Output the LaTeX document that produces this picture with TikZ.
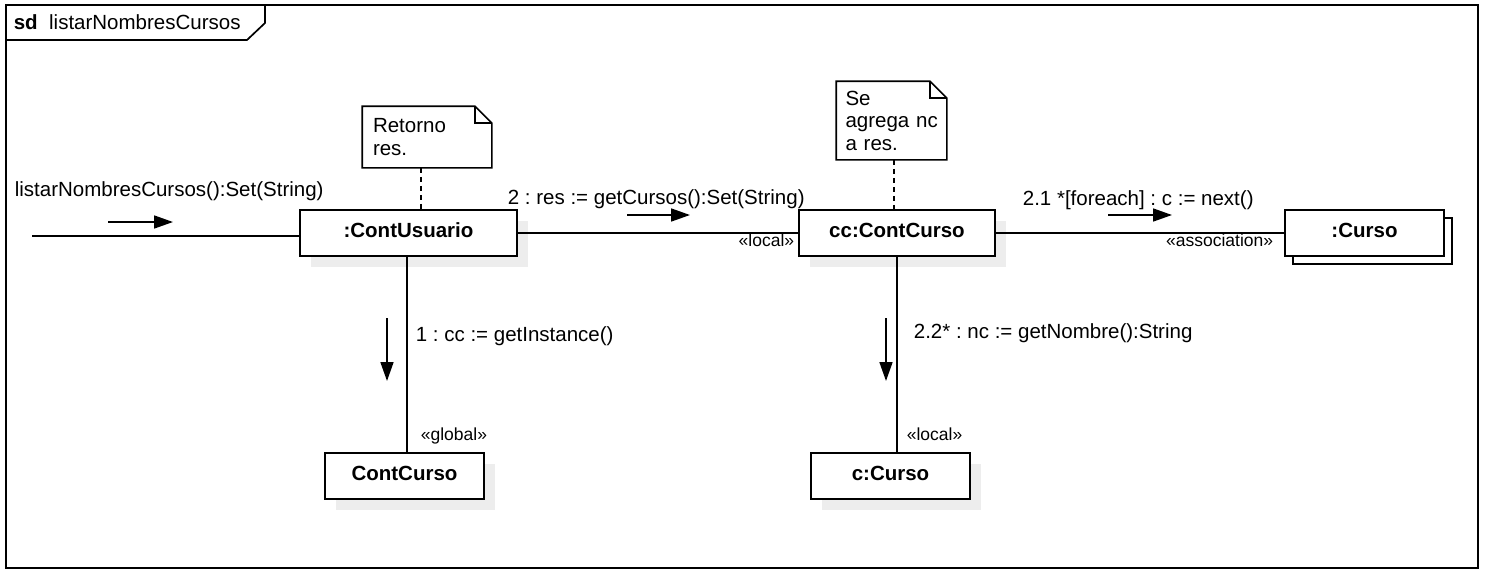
\documentclass[tikz,border=0pt]{standalone}
\usepackage{fontspec}
\setmainfont{Liberation Sans}
\usetikzlibrary{arrows.meta,shadows,calc}
\frenchspacing
\begin{document}
\frenchspacing
\begin{tikzpicture}[x=1pt,y=-1pt,line width=1.7pt,
  font=\fontsize{20.5}{22.5}\selectfont,
  obj/.style={draw, fill=white, rectangle, minimum height=46pt, inner sep=0pt,
    text height=14.7pt, text depth=6pt,
    font=\fontsize{20.5}{22.5}\selectfont\bfseries,
    general shadow={fill=black!7, shadow xshift=11pt, shadow yshift=-11pt}},
  multiobj/.style={draw, fill=white, rectangle, minimum height=46pt, inner sep=0pt,
    text height=14.7pt, text depth=6pt,
    font=\fontsize{20.5}{22.5}\selectfont\bfseries,
    general shadow={draw=black, fill=white, line width=1.7pt, shadow xshift=8pt, shadow yshift=-8pt}},
  notebox/.style={align=left, inner ysep=0pt},
  msg/.style={-{Triangle[length=19pt,width=13pt]}},
  stereo/.style={font=\fontsize{17.5}{20}\selectfont, inner sep=0pt},
  lbl/.style={inner sep=0pt},
  notedash/.style={dash pattern=on 5pt off 4pt}
]
\useasboundingbox (0,0) rectangle (1486,576);
% frame
\draw (6,5) rectangle (1478,568);
\coordinate (tabA) at (265,5);
\coordinate (tabB) at (265,23);
\coordinate (tabC) at (247,40);
\coordinate (tabD) at (6,40);
\draw (tabA) -- (tabB) -- (tabC) -- (tabD);
\node[lbl, anchor=base west] (sd) at (13,29) {\textbf{sd}\ \ listarNombresCursos};

% objects
\node[obj, minimum width=217pt] (cu) at (408.5,233) {:ContUsuario};
\node[obj, minimum width=196pt] (ccc) at (897,233) {cc:ContCurso};
\node[multiobj, minimum width=159pt] (curso) at (1364.5,233) {:Curso};
\node[obj, minimum width=159pt] (contcurso) at (404.5,476) {ContCurso};
\node[obj, minimum width=159pt] (ccurso) at (890.5,476) {c:Curso};

% notes
\node[notebox, text width=108pt, inner xsep=10pt, minimum width=128pt, minimum height=60pt] (n1) at (427,137) {};
\fill[white] (n1.north west) rectangle (n1.south east);
\draw (n1.north west) -- ([xshift=-17pt]n1.north east) -- ([yshift=-17pt]n1.north east) -- (n1.south east) -- (n1.south west) -- cycle;
\draw ([xshift=-17pt]n1.north east) |- ([yshift=-17pt]n1.north east);
\node[notebox, text width=108pt, inner xsep=10pt, minimum width=128pt, minimum height=60pt] at (n1) {Retorno\\res.};

\node[notebox, text width=92pt, inner xsep=8.5pt, minimum width=109pt, minimum height=77pt] (n2) at (891.5,120.5) {};
\fill[white] (n2.north west) rectangle (n2.south east);
\draw (n2.north west) -- ([xshift=-17pt]n2.north east) -- ([yshift=-17pt]n2.north east) -- (n2.south east) -- (n2.south west) -- cycle;
\draw ([xshift=-17pt]n2.north east) |- ([yshift=-17pt]n2.north east);
\node[notebox, text width=92pt, inner xsep=8.5pt, minimum width=109pt, minimum height=77pt] at (n2) {Se\\\mbox{agrega nc}\\a res.};

\draw[notedash, line width=1.5pt] ([xshift=-6pt]n1.south) -- ([xshift=-6pt]n1.south |- cu.north);
\draw[notedash, line width=1.5pt] ([xshift=2.5pt]n2.south) -- ([xshift=2.5pt]n2.south |- ccc.north);

% links
\coordinate (start) at (32,236);
\draw (start) -- (start -| cu.west);
\draw (cu) -- (ccc);
\draw (ccc) -- (curso);
\draw ([xshift=-1.5pt]cu.south) -- ([xshift=-1.5pt]cu.south |- contcurso.north);
\draw (ccc.south) -- (ccc.south |- ccurso.north);

% message arrows
\coordinate (m0a) at (108,222); \coordinate (m0b) at (173,222);
\draw[msg] (m0a) -- (m0b);
\coordinate (m2a) at (627,215); \coordinate (m2b) at (690,215);
\draw[msg] (m2a) -- (m2b);
\coordinate (m21a) at (1108,215); \coordinate (m21b) at (1172,215);
\draw[msg] (m21a) -- (m21b);
\coordinate (m1a) at (387,318); \coordinate (m1b) at (387,381);
\draw[msg] (m1a) -- (m1b);
\coordinate (m22a) at (886,318); \coordinate (m22b) at (886,381);
\draw[msg] (m22a) -- (m22b);

% labels
\node[lbl, anchor=base west] (l0) at (14,196.5) {listarNombresCursos():Set(String)};
\node[lbl, anchor=base west] (l2) at (507,204) {2 : res := getCursos():Set(String)};
\node[lbl, anchor=base west] (l21) at (1022,205) {2.1 *[foreach] : c := next()};
\node[lbl, anchor=base west] (l1) at (415,341) {1 : cc := getInstance()};
\node[lbl, anchor=base west] (l22) at (913,338) {2.2* : nc := getNombre():String};
\node[stereo, anchor=base east] (s1) at (795,246) {«local»};
\node[stereo, anchor=base east] (s2) at (1274,246.5) {«association»};
\node[stereo, anchor=base west] (s3) at (420,440) {«global»};
\node[stereo, anchor=base west] (s4) at (906,440) {«local»};
\end{tikzpicture}
\end{document}
